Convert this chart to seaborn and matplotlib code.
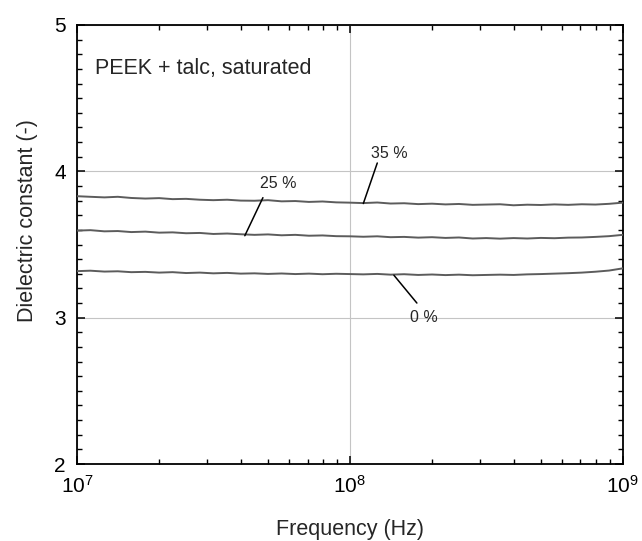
import numpy as np
import pandas as pd
import matplotlib
matplotlib.use('Agg')
import matplotlib.pyplot as plt
from matplotlib.ticker import LogLocator, MultipleLocator
import seaborn as sns

# frequences (Hz)
freq = [1.00e7, 1.12e7, 1.26e7, 1.41e7, 1.58e7, 1.78e7, 2.00e7, 2.24e7, 2.51e7, 2.82e7,
        3.16e7, 3.55e7, 3.98e7, 4.47e7, 5.01e7, 5.62e7, 6.31e7, 7.08e7, 7.94e7, 8.91e7,
        1.00e8, 1.12e8, 1.26e8, 1.41e8, 1.58e8, 1.78e8, 2.00e8, 2.24e8, 2.51e8, 2.82e8,
        3.16e8, 3.55e8, 3.98e8, 4.47e8, 5.01e8, 5.62e8, 6.31e8, 7.08e8, 7.94e8, 8.91e8,
        1.00e9]

eps_35 = [3.830, 3.826, 3.822, 3.826, 3.818, 3.814, 3.817, 3.810, 3.812, 3.806,
          3.803, 3.806, 3.800, 3.799, 3.803, 3.795, 3.797, 3.791, 3.794, 3.788,
          3.786, 3.783, 3.787, 3.780, 3.782, 3.776, 3.779, 3.774, 3.777, 3.771,
          3.773, 3.775, 3.768, 3.772, 3.770, 3.774, 3.771, 3.775, 3.773, 3.778,
          3.786]

eps_25 = [3.595, 3.598, 3.590, 3.592, 3.585, 3.588, 3.581, 3.583, 3.577, 3.579,
          3.572, 3.575, 3.570, 3.566, 3.569, 3.563, 3.566, 3.560, 3.562, 3.557,
          3.556, 3.553, 3.556, 3.550, 3.552, 3.547, 3.550, 3.545, 3.548, 3.541,
          3.544, 3.540, 3.544, 3.541, 3.545, 3.543, 3.547, 3.548, 3.552, 3.557,
          3.566]

eps_0 = [3.318, 3.321, 3.315, 3.317, 3.311, 3.313, 3.308, 3.311, 3.305, 3.308,
         3.303, 3.306, 3.301, 3.303, 3.299, 3.302, 3.298, 3.301, 3.297, 3.300,
         3.298, 3.296, 3.299, 3.294, 3.297, 3.292, 3.295, 3.291, 3.294, 3.290,
         3.292, 3.294, 3.292, 3.296, 3.298, 3.301, 3.304, 3.308, 3.314, 3.322,
         3.337]

series = {'35 %': eps_35, '25 %': eps_25, '0 %': eps_0}

# etiquettes : texte, position du texte, trait de rappel (debut -> fin)
labels = ['35 %', '25 %', '0 %']
label_pos = [(1.40e8, 4.125), (5.45e7, 3.92), (1.87e8, 3.00)]
leader_x = [(1.26e8, 1.12e8), (4.8e7, 4.12e7), (1.45e8, 1.76e8)]
leader_y = [(4.057, 3.78), (3.82, 3.56), (3.29, 3.10)]

df = pd.concat([pd.DataFrame({'freq': freq, 'eps': v, 'talc': k}) for k, v in series.items()])

sns.set_style('ticks')
plt.rcParams['font.family'] = ['Liberation Sans', 'DejaVu Sans']
plt.rcParams['mathtext.default'] = 'regular'

fig = plt.figure(figsize=(6.42, 5.41), dpi=100)
ax = fig.add_axes([0.120, 0.1423, 0.850, 0.8115])

ax.grid(True, which='major', color='#c4c4c4', linewidth=0.8)
sns.lineplot(data=df, x='freq', y='eps', hue='talc', palette=['#5c5c5c'] * 3,
             linewidth=1.4, legend=False, ax=ax, zorder=3)

ax.set_xscale('log')
ax.set_xlim(1e7, 1e9)
ax.set_ylim(2, 5)
ax.yaxis.set_major_locator(MultipleLocator(1))
ax.yaxis.set_minor_locator(MultipleLocator(0.1))
ax.xaxis.set_major_locator(LogLocator(base=10))
ax.xaxis.set_minor_locator(LogLocator(base=10, subs=np.arange(2, 10)))

ax.tick_params(which='both', direction='in', top=True, right=True, colors='black')
ax.tick_params(which='major', length=6, width=1.1, labelsize=15)
ax.tick_params(which='minor', length=3.5, width=1.0)
ax.tick_params(axis='x', which='major', pad=8)
ax.tick_params(axis='y', which='major', pad=8)
for s in ax.spines.values():
    s.set_linewidth(1.3)
    s.set_color('black')

ax.set_xlabel('Frequency (Hz)', fontsize=15.5)
ax.set_ylabel('Dielectric constant (-)', fontsize=15.5)
ax.xaxis.set_label_coords(0.5, -0.125)
ax.yaxis.set_label_coords(-0.072, 0.555)

ax.text(1.16e7, 4.70, 'PEEK + talc, saturated', fontsize=15.5, va='center', ha='left')

for lab, p, lx, ly in zip(labels, label_pos, leader_x, leader_y):
    ax.plot(lx, ly, color='black', linewidth=1.1, zorder=4)
    ax.text(p[0], p[1], lab, fontsize=11.5, ha='center', va='center', zorder=5)

fig.savefig('out.png', dpi=100)
